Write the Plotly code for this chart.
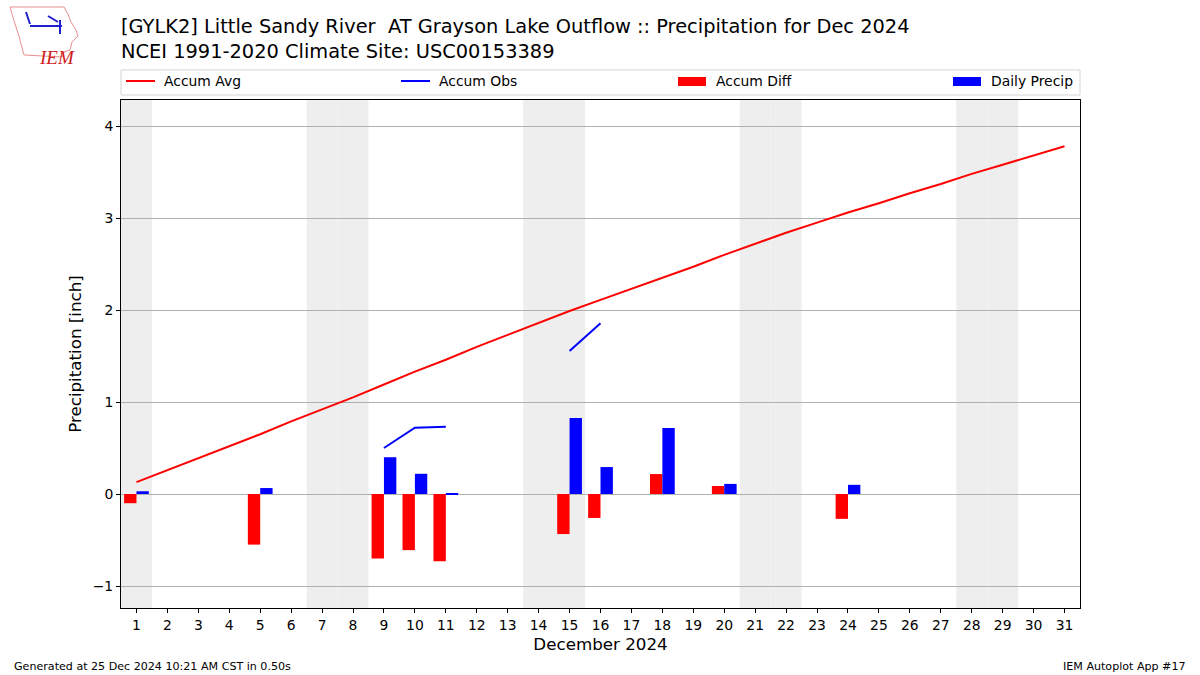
import datetime
import plotly.graph_objects as go

days = list(range(1, 32))
accum_avg = [0.13, 0.26, 0.39, 0.52, 0.65, 0.79, 0.92, 1.05, 1.19, 1.33,
             1.46, 1.60, 1.73, 1.86, 1.99, 2.11, 2.23, 2.35, 2.47, 2.60,
             2.72, 2.84, 2.95, 3.06, 3.16, 3.27, 3.37, 3.48, 3.58, 3.68, 3.78]
obs_days = [1, 5, 9, 10, 11, 15, 16, 18, 20, 24]
accum_obs_vals = [0.03, 0.10, 0.50, 0.72, 0.73, 1.555, 1.855, 2.575, 2.685, 2.785]
accum_diff_vals = [-0.10, -0.55, -0.70, -0.61, -0.73, -0.435, -0.26, 0.217, 0.087, -0.27]
daily_precip_vals = [0.03, 0.065, 0.40, 0.22, 0.01, 0.826, 0.293, 0.717, 0.11, 0.10]
tick_labels = [str(d) for d in days]
legend_names = ["Accum Avg", "Accum Obs", "Accum Diff", "Daily Precip"]
legend_colors = ["#ff0000", "#0000ff", "#ff0000", "#0000ff"]

obs_map = dict(zip(obs_days, accum_obs_vals))
accum_obs = [obs_map.get(d) for d in days]

W, H = 1200, 675
L, R, T, B = 121, 120, 100, 67
pw, ph = W - L - R, H - T - B


def pp(x, y):
    """pixel (from top-left) -> paper coords"""
    return (x - L) / pw, (H - B - y) / ph


fig = go.Figure()

# weekend shading
for d in days:
    if datetime.date(2024, 12, d).weekday() >= 5:
        fig.add_vrect(x0=d - 0.5, x1=d + 0.5, fillcolor="#eeeeee", line_width=0,
                      layer="below")

fig.add_trace(go.Scatter(x=days, y=accum_avg, mode="lines", name=legend_names[0],
                         line=dict(color=legend_colors[0], width=2)))
fig.add_trace(go.Scatter(x=days, y=accum_obs, mode="lines", name=legend_names[1],
                         connectgaps=False, line=dict(color=legend_colors[1], width=2)))
fig.add_trace(go.Bar(x=obs_days, y=accum_diff_vals, name=legend_names[2],
                     marker=dict(color=legend_colors[2], line_width=0), width=0.4, offset=-0.4))
fig.add_trace(go.Bar(x=obs_days, y=daily_precip_vals, name=legend_names[3],
                     marker=dict(color=legend_colors[3], line_width=0), width=0.4, offset=0))

# manual legend (matplotlib "expand" style)
x0, y0 = pp(121, 95)
x1, y1 = pp(1080, 70)
fig.add_shape(type="rect", xref="paper", yref="paper", x0=x0, x1=x1, y0=y0, y1=y1,
              line=dict(color="#d4d4d4", width=1), fillcolor="white")
col_x = [126, 401, 678, 953]
for i, (name, col) in enumerate(zip(legend_names, legend_colors)):
    cx = col_x[i]
    if i < 2:
        a = pp(cx, 81)
        b = pp(cx + 29, 81)
        fig.add_shape(type="line", xref="paper", yref="paper", x0=a[0], y0=a[1],
                      x1=b[0], y1=b[1], line=dict(color=col, width=2))
    else:
        a = pp(cx, 86)
        b = pp(cx + 28, 77)
        fig.add_shape(type="rect", xref="paper", yref="paper", x0=a[0], y0=a[1],
                      x1=b[0], y1=b[1], line_width=0, fillcolor=col)
    t = pp(cx + 36, 81)
    fig.add_annotation(text=name, xref="paper", yref="paper", x=t[0], y=t[1],
                       xanchor="left", yanchor="middle", showarrow=False,
                       font=dict(family="DejaVu Sans", size=13.9, color="black"))

# title
p = pp(119, 39.5)
fig.add_annotation(text="[GYLK2] Little Sandy River  AT Grayson Lake Outflow :: Precipitation for Dec 2024"
                        "<br>NCEI 1991-2020 Climate Site: USC00153389",
                   xref="paper", yref="paper", x=p[0], y=p[1],
                   xanchor="left", yanchor="middle", showarrow=False, align="left",
                   font=dict(family="DejaVu Sans", size=19.4, color="black"))

# footers
p = pp(12, 666)
fig.add_annotation(text="Generated at 25 Dec 2024 10:21 AM CST in 0.50s",
                   xref="paper", yref="paper", x=p[0], y=p[1],
                   xanchor="left", yanchor="middle", showarrow=False,
                   font=dict(family="DejaVu Sans", size=11.1, color="black"))
p = pp(1188, 666)
fig.add_annotation(text="IEM Autoplot App #17",
                   xref="paper", yref="paper", x=p[0], y=p[1],
                   xanchor="right", yanchor="middle", showarrow=False,
                   font=dict(family="DejaVu Sans", size=11.1, color="black"))

# simple logo
outline = [(10, 7), (64, 7), (68, 14), (71, 22), (76, 30), (78, 36), (72, 42),
           (70, 50), (64, 52), (62, 57), (24, 55), (22, 48), (19, 36), (15, 24), (12, 14)]
path = "M " + " L ".join(f"{pp(x, y)[0]:.4f},{pp(x, y)[1]:.4f}" for x, y in outline) + " Z"
fig.add_shape(type="path", xref="paper", yref="paper", path=path,
              line=dict(color="#e89090", width=1))
for (ax, ay, bx, by) in [(30, 26, 62, 26), (48, 16, 58, 22), (60, 20, 60, 34), (26, 12, 30, 24)]:
    a = pp(ax, ay)
    b = pp(bx, by)
    fig.add_shape(type="line", xref="paper", yref="paper", x0=a[0], y0=a[1], x1=b[0], y1=b[1],
                  line=dict(color="#2020d0", width=2))
p = pp(37, 45)
fig.add_annotation(text="<i>IEM</i>", xref="paper", yref="paper", x=p[0], y=p[1],
                   showarrow=False,
                   font=dict(family="Liberation Serif", size=19, color="#d02020"))

fig.update_layout(
    width=W, height=H,
    margin=dict(l=L, r=R, t=T, b=B),
    paper_bgcolor="white", plot_bgcolor="white",
    barmode="overlay",
    font=dict(family="DejaVu Sans", size=13.9, color="black"),
    showlegend=False,
    xaxis=dict(range=[0.5, 31.5], tickmode="array", tickvals=days, ticktext=tick_labels,
               ticks="outside", ticklen=4, tickcolor="black", showgrid=False,
               showline=True, linecolor="black", linewidth=1, mirror=True,
               zeroline=False, tickfont=dict(size=13.9),
               title=dict(text="December 2024", font=dict(size=16.7), standoff=6)),
    yaxis=dict(range=[-1.239, 4.283], tickmode="array", tickvals=[-1, 0, 1, 2, 3, 4],
               ticks="outside", ticklen=4, tickcolor="black", showgrid=True,
               gridcolor="#b0b0b0", gridwidth=1, showline=True, linecolor="black",
               linewidth=1, mirror=True, zeroline=False, tickfont=dict(size=13.9),
               title=dict(text="Precipitation [inch]", font=dict(size=16.7), standoff=6)),
)

fig.write_html("out.html", post_script="document.body.style.margin='0';",
               config={"displayModeBar": False})
